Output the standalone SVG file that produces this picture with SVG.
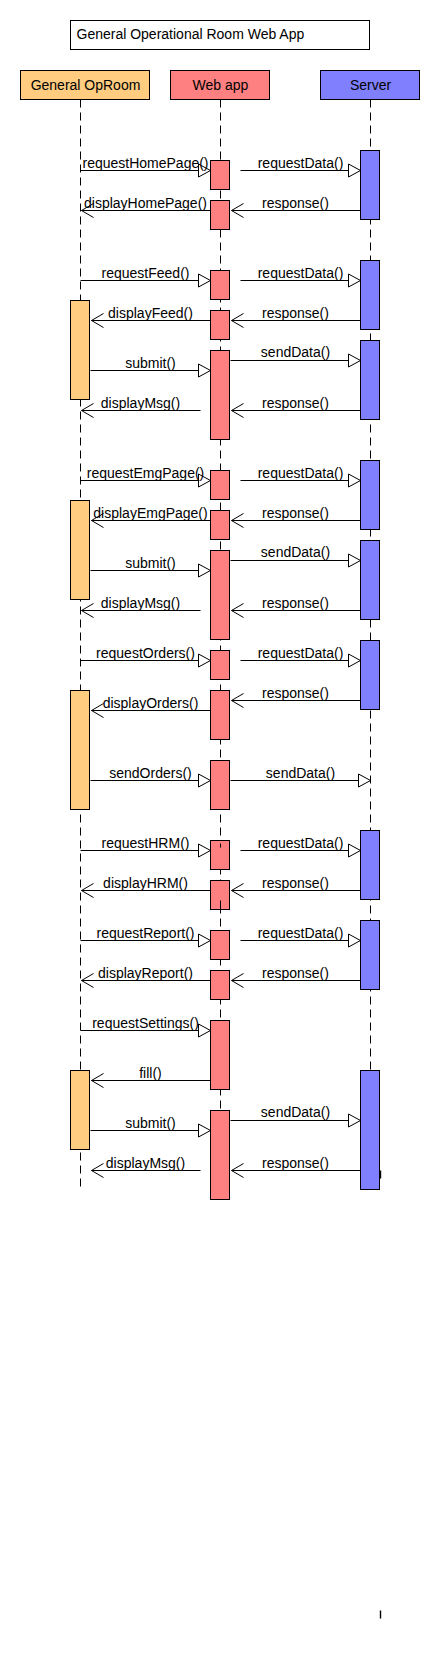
<svg xmlns="http://www.w3.org/2000/svg" width="440" height="1660" viewBox="0 0 440 1660">
<defs>
<style>
text{font-family:"Liberation Sans",Arial,sans-serif;font-size:14px;fill:#000}
.lbl{text-anchor:middle}
.head{stroke:#000;stroke-width:1}
.op{fill:#FFCC80;stroke:#000;stroke-width:1}
.web{fill:#FF8080;stroke:#000;stroke-width:1}
.srv{fill:#8080FF;stroke:#000;stroke-width:1}
.life{stroke:#000;stroke-width:1;stroke-dasharray:8 5;fill:none}
.sync{stroke:#000;stroke-width:1;fill:none;marker-end:url(#tri)}
.ret{stroke:#000;stroke-width:1;fill:none;marker-end:url(#open)}
.mark{stroke:#000;stroke-width:1.4}
</style>
<marker id="tri" viewBox="0 0 12 13" refX="12" refY="6.5" markerWidth="12" markerHeight="13" markerUnits="userSpaceOnUse" orient="auto" overflow="visible">
<path d="M0,0 L12,6.5 L0,13 Z" fill="#fff" stroke="#000" stroke-width="1"/>
</marker>
<marker id="open" viewBox="0 0 12 14" refX="12" refY="7" markerWidth="12" markerHeight="14" markerUnits="userSpaceOnUse" orient="auto" overflow="visible">
<path d="M0,0 L12,7 L0,14" fill="none" stroke="#000" stroke-width="1"/>
</marker>
</defs>
<rect width="440" height="1660" fill="#fff"/>
<g transform="translate(0.5,0.5)">
<g id="title">
<rect x="70" y="20" width="299" height="29" fill="#fff" stroke="#000"/>
<text x="76" y="38.5">General Operational Room Web App</text>
</g>
<g id="lifelines">
<line class="life" x1="80" y1="99" x2="80" y2="1190"/>
<line class="life" x1="220" y1="99" x2="220" y2="1199"/>
<line class="life" x1="370" y1="99" x2="370" y2="1189"/>
</g>
<g id="opRoom">
<rect class="op" x="20" y="70" width="129" height="29"/>
<text class="lbl" x="85" y="89">General OpRoom</text>
<rect class="op" x="70" y="300" width="19" height="99"/>
<rect class="op" x="70" y="500" width="19" height="99"/>
<rect class="op" x="70" y="690" width="19" height="119"/>
<rect class="op" x="70" y="1070" width="19" height="79"/>
</g>
<g id="webApp">
<rect class="web" x="170" y="70" width="99" height="29"/>
<text class="lbl" x="220" y="89">Web app</text>
<rect class="web" x="210" y="160" width="19" height="29"/>
<rect class="web" x="210" y="200" width="19" height="29"/>
<rect class="web" x="210" y="270" width="19" height="29"/>
<rect class="web" x="210" y="310" width="19" height="29"/>
<rect class="web" x="210" y="350" width="19" height="89"/>
<rect class="web" x="210" y="470" width="19" height="29"/>
<rect class="web" x="210" y="510" width="19" height="29"/>
<rect class="web" x="210" y="550" width="19" height="89"/>
<rect class="web" x="210" y="650" width="19" height="29"/>
<rect class="web" x="210" y="690" width="19" height="49"/>
<rect class="web" x="210" y="760" width="19" height="49"/>
<rect class="web" x="210" y="840" width="19" height="29"/>
<rect class="web" x="210" y="880" width="19" height="29"/>
<rect class="web" x="210" y="930" width="19" height="29"/>
<rect class="web" x="210" y="970" width="19" height="29"/>
<rect class="web" x="210" y="1020" width="19" height="69"/>
<rect class="web" x="210" y="1110" width="19" height="89"/>
<line stroke="#000" x1="220" y1="843" x2="220" y2="847"/>
<line stroke="#000" x1="220" y1="900" x2="220" y2="909"/>
</g>
<g id="server">
<rect class="srv" x="320" y="70" width="99" height="29"/>
<text class="lbl" x="370" y="89">Server</text>
<rect class="srv" x="360" y="150" width="19" height="69"/>
<rect class="srv" x="360" y="260" width="19" height="69"/>
<rect class="srv" x="360" y="340" width="19" height="79"/>
<rect class="srv" x="360" y="460" width="19" height="69"/>
<rect class="srv" x="360" y="540" width="19" height="79"/>
<rect class="srv" x="360" y="640" width="19" height="69"/>
<rect class="srv" x="360" y="830" width="19" height="69"/>
<rect class="srv" x="360" y="920" width="19" height="69"/>
<rect class="srv" x="360" y="1070" width="19" height="119"/>
<line class="mark" x1="380" y1="1170" x2="380" y2="1178"/>
</g>
<g id="connectors">
<line class="sync" x1="80" y1="170" x2="210" y2="170"/>
<line class="sync" x1="240" y1="170" x2="360" y2="170"/>
<line class="ret" x1="360" y1="210" x2="231" y2="210"/>
<line class="ret" x1="210" y1="210" x2="81" y2="210"/>

<line class="sync" x1="80" y1="280" x2="210" y2="280"/>
<line class="sync" x1="240" y1="280" x2="360" y2="280"/>
<line class="ret" x1="360" y1="320" x2="231" y2="320"/>
<line class="ret" x1="210" y1="320" x2="91" y2="320"/>
<line class="sync" x1="230" y1="360" x2="360" y2="360"/>
<line class="sync" x1="90" y1="370" x2="210" y2="370"/>
<line class="ret" x1="360" y1="410" x2="231" y2="410"/>
<line class="ret" x1="200" y1="410" x2="81" y2="410"/>

<line class="sync" x1="80" y1="480" x2="210" y2="480"/>
<line class="sync" x1="240" y1="480" x2="360" y2="480"/>
<line class="ret" x1="360" y1="520" x2="231" y2="520"/>
<line class="ret" x1="210" y1="520" x2="91" y2="520"/>
<line class="sync" x1="230" y1="560" x2="360" y2="560"/>
<line class="sync" x1="90" y1="570" x2="210" y2="570"/>
<line class="ret" x1="360" y1="610" x2="231" y2="610"/>
<line class="ret" x1="200" y1="610" x2="81" y2="610"/>

<line class="sync" x1="80" y1="660" x2="210" y2="660"/>
<line class="sync" x1="240" y1="660" x2="360" y2="660"/>
<line class="ret" x1="360" y1="700" x2="231" y2="700"/>
<line class="ret" x1="210" y1="710" x2="91" y2="710"/>
<line class="sync" x1="90" y1="780" x2="210" y2="780"/>
<line class="sync" x1="230" y1="780" x2="370" y2="780"/>

<line class="sync" x1="80" y1="850" x2="210" y2="850"/>
<line class="sync" x1="240" y1="850" x2="360" y2="850"/>
<line class="ret" x1="360" y1="890" x2="231" y2="890"/>
<line class="ret" x1="210" y1="890" x2="81" y2="890"/>

<line class="sync" x1="80" y1="940" x2="210" y2="940"/>
<line class="sync" x1="240" y1="940" x2="360" y2="940"/>
<line class="ret" x1="360" y1="980" x2="231" y2="980"/>
<line class="ret" x1="210" y1="980" x2="81" y2="980"/>

<line class="sync" x1="80" y1="1030" x2="210" y2="1030"/>
<line class="ret" x1="210" y1="1080" x2="91" y2="1080"/>
<line class="sync" x1="230" y1="1120" x2="360" y2="1120"/>
<line class="sync" x1="90" y1="1130" x2="210" y2="1130"/>
<line class="ret" x1="360" y1="1170" x2="231" y2="1170"/>
<line class="ret" x1="200" y1="1170" x2="91" y2="1170"/>
</g>
<g id="labels">
<text class="lbl" x="145" y="167">requestHomePage()</text>
<text class="lbl" x="300" y="167">requestData()</text>
<text class="lbl" x="295" y="207">response()</text>
<text class="lbl" x="145" y="207">displayHomePage()</text>

<text class="lbl" x="145" y="277">requestFeed()</text>
<text class="lbl" x="300" y="277">requestData()</text>
<text class="lbl" x="295" y="317">response()</text>
<text class="lbl" x="150" y="317">displayFeed()</text>
<text class="lbl" x="295" y="356">sendData()</text>
<text class="lbl" x="150" y="367">submit()</text>
<text class="lbl" x="295" y="407">response()</text>
<text class="lbl" x="140" y="407">displayMsg()</text>

<text class="lbl" x="145" y="477">requestEmgPage()</text>
<text class="lbl" x="300" y="477">requestData()</text>
<text class="lbl" x="295" y="517">response()</text>
<text class="lbl" x="150" y="517">displayEmgPage()</text>
<text class="lbl" x="295" y="556">sendData()</text>
<text class="lbl" x="150" y="567">submit()</text>
<text class="lbl" x="295" y="607">response()</text>
<text class="lbl" x="140" y="607">displayMsg()</text>

<text class="lbl" x="145" y="657">requestOrders()</text>
<text class="lbl" x="300" y="657">requestData()</text>
<text class="lbl" x="295" y="697">response()</text>
<text class="lbl" x="150" y="707">displayOrders()</text>
<text class="lbl" x="150" y="777">sendOrders()</text>
<text class="lbl" x="300" y="777">sendData()</text>

<text class="lbl" x="145" y="847">requestHRM()</text>
<text class="lbl" x="300" y="847">requestData()</text>
<text class="lbl" x="295" y="887">response()</text>
<text class="lbl" x="145" y="887">displayHRM()</text>

<text class="lbl" x="145" y="937">requestReport()</text>
<text class="lbl" x="300" y="937">requestData()</text>
<text class="lbl" x="295" y="977">response()</text>
<text class="lbl" x="145" y="977">displayReport()</text>

<text class="lbl" x="145" y="1027">requestSettings()</text>
<text class="lbl" x="150" y="1077">fill()</text>
<text class="lbl" x="295" y="1116">sendData()</text>
<text class="lbl" x="150" y="1127">submit()</text>
<text class="lbl" x="295" y="1167">response()</text>
<text class="lbl" x="145" y="1167">displayMsg()</text>
</g>
<line class="mark" x1="380" y1="1610" x2="380" y2="1618"/>
</g>
</svg>
